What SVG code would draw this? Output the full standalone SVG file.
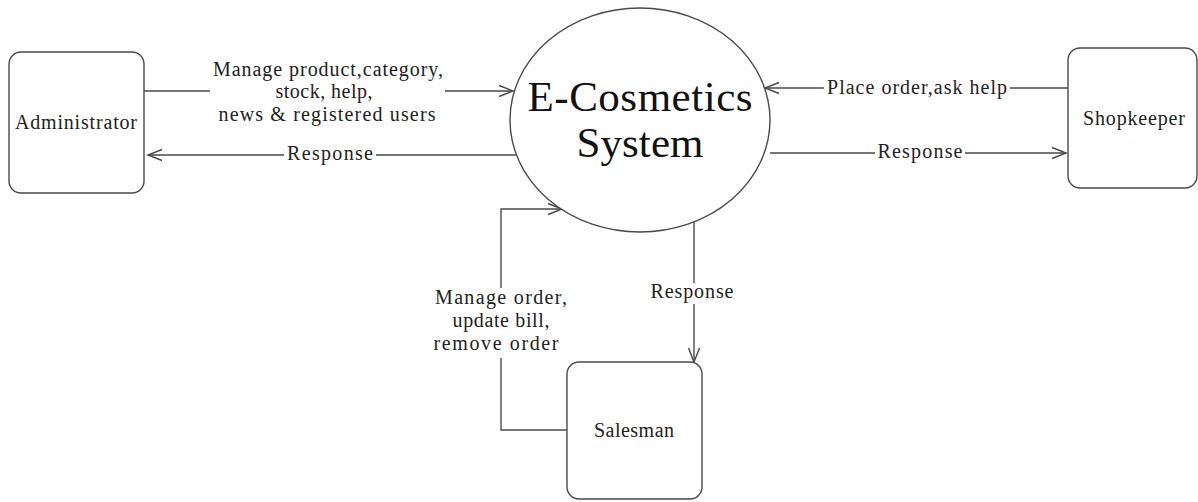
<svg xmlns="http://www.w3.org/2000/svg" width="1198" height="502" viewBox="0 0 1198 502">
  <style>
    .box { fill: #ffffff; stroke: #4a4a4a; stroke-width: 1.4; }
    .bubble { fill: #ffffff; stroke: #4a4a4a; stroke-width: 1.4; }
    .flow { fill: none; stroke: #4a4a4a; stroke-width: 1.4; marker-end: url(#open-arrow); }
    .lbl { font-family: "Liberation Serif", "Times New Roman", serif; font-size: 20px; fill: #222222; text-anchor: middle; }
    .title { font-family: "Liberation Serif", "Times New Roman", serif; font-size: 43px; fill: #111111; text-anchor: middle; }
  </style>
  <defs>
    <marker id="open-arrow" viewBox="-16 -8 18 16" refX="0" refY="0" markerWidth="18" markerHeight="16" markerUnits="userSpaceOnUse" orient="auto">
      <path d="M-14,-5.5 L0,0 L-14,5.5" fill="none" stroke="#4a4a4a" stroke-width="1.4"/>
    </marker>
  </defs>

  <rect width="1198" height="502" fill="#ffffff"/>

  <!-- data flows -->
  <g id="connectors">
    <!-- Administrator -> system -->
    <path class="flow" d="M144,91 H210 M445,91 H513"/>
    <!-- system -> Administrator -->
    <path class="flow" d="M516,155 H376 M284,155 H148"/>
    <!-- Shopkeeper -> system -->
    <path class="flow" d="M1068,88 H1010 M824,88 H765"/>
    <!-- system -> Shopkeeper -->
    <path class="flow" d="M770,153 H875 M965,153 H1066"/>
    <!-- Salesman -> system -->
    <path class="flow" d="M567,430 H501 V358 M501,288 V209 H562"/>
    <!-- system -> Salesman -->
    <path class="flow" d="M694,222 V283 M694,304 V362"/>

    <text class="lbl" x="328" y="76" textLength="230">Manage product,category,</text>
    <text class="lbl" x="324" y="98" textLength="97">stock, help,</text>
    <text class="lbl" x="327" y="121" textLength="217">news &amp; registered users</text>
    <text class="lbl" x="330" y="160" textLength="86">Response</text>
    <text class="lbl" x="917" y="94" textLength="180">Place order,ask help</text>
    <text class="lbl" x="920" y="158" textLength="85">Response</text>
    <text class="lbl" x="501" y="304" textLength="132">Manage order,</text>
    <text class="lbl" x="501" y="327" textLength="97">update bill,</text>
    <text class="lbl" x="496" y="350" textLength="125">remove order</text>
    <text class="lbl" x="692" y="298" textLength="83">Response</text>
  </g>

  <!-- central process -->
  <g id="e-cosmetics-system">
    <ellipse class="bubble" cx="640" cy="120" rx="130" ry="112"/>
    <text class="title" x="640" y="111" textLength="225">E-Cosmetics</text>
    <text class="title" x="640" y="157" textLength="127">System</text>
  </g>

  <!-- external entities -->
  <g id="administrator">
    <rect class="box" x="9" y="52" width="135" height="141" rx="12"/>
    <text class="lbl" x="76" y="129" textLength="122">Administrator</text>
  </g>

  <g id="shopkeeper">
    <rect class="box" x="1068" y="48" width="129" height="140" rx="12"/>
    <text class="lbl" x="1134" y="125" textLength="102">Shopkeeper</text>
  </g>

  <g id="salesman">
    <rect class="box" x="567" y="362" width="135" height="137" rx="12"/>
    <text class="lbl" x="634" y="437" textLength="80">Salesman</text>
  </g>
</svg>
